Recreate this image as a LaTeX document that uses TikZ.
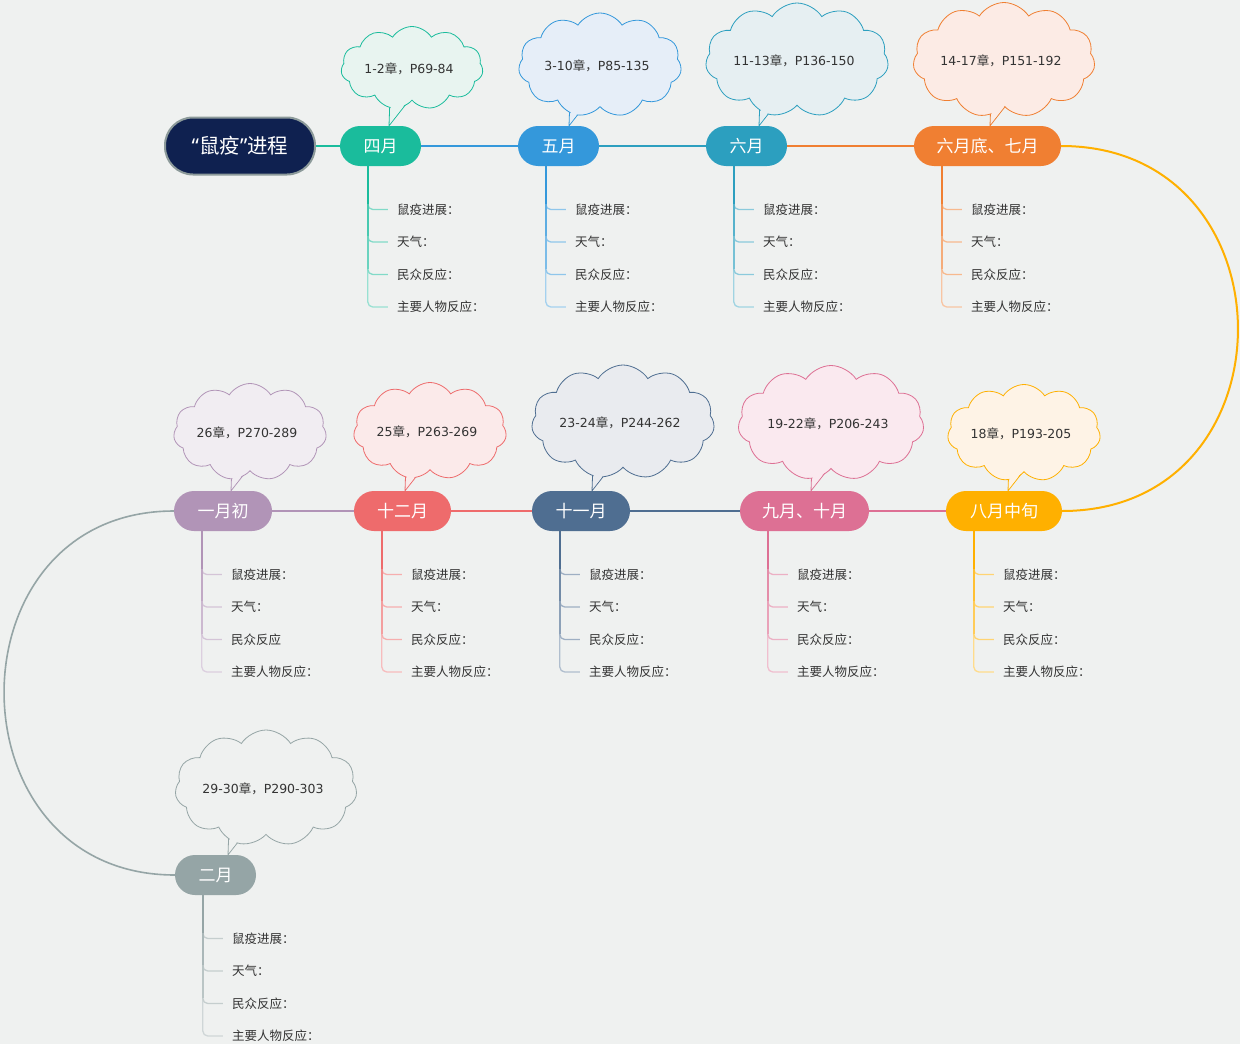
\documentclass[tikz,border=0pt]{standalone}
\usepackage{fontspec}
\setmainfont{Noto Sans CJK SC}
\newfontfamily\latfont{DejaVu Sans}
\newfontfamily\quotefont{Noto Sans}
\usetikzlibrary{shapes.symbols,calc}
\definecolor{bg}{HTML}{EFF1F0}
\definecolor{txt}{HTML}{333333}
\definecolor{rootfill}{HTML}{0F2150}
\definecolor{rootline}{HTML}{8C9A9A}
\definecolor{cA}{HTML}{1ABC9C}
\definecolor{cB}{HTML}{3498DB}
\definecolor{cC}{HTML}{2C9FBF}
\definecolor{cD}{HTML}{F07F32}
\definecolor{cE}{HTML}{FFB000}
\definecolor{cF}{HTML}{DD7094}
\definecolor{cG}{HTML}{4F6E91}
\definecolor{cH}{HTML}{EE6B6C}
\definecolor{cI}{HTML}{B194B7}
\definecolor{cJ}{HTML}{95A5A6}
\definecolor{fA}{HTML}{E8F4F0}
\definecolor{fB}{HTML}{E6EEF8}
\definecolor{fC}{HTML}{E6EFF2}
\definecolor{fD}{HTML}{FCEBE5}
\definecolor{fE}{HTML}{FEF3E6}
\definecolor{fF}{HTML}{FAE9EF}
\definecolor{fG}{HTML}{E9EBEF}
\definecolor{fH}{HTML}{FBEAEA}
\definecolor{fI}{HTML}{F1EDF2}
\definecolor{fJ}{HTML}{EFF1F0}
\newcommand\lt[1]{{\latfont #1}}
\tikzset{
  month/.style={rectangle, rounded corners=20pt, minimum height=40pt, inner sep=0pt, text=white, font=\fontsize{17}{19}\selectfont},
  cloudbox/.style={cloud, cloud puffs=11, cloud puff arc=115, cloud ignores aspect, line width=0.8pt, inner sep=0pt},
  cloudtext/.style={inner sep=0pt, text=txt, font=\fontsize{12.5}{14}\selectfont},
  itemtext/.style={anchor=west, inner sep=0pt, text=txt, font=\fontsize{12.5}{14}\selectfont},
  itemline/.style={line width=1.3pt, rounded corners=5pt, shorten >=9pt},
  link/.style={line width=2pt},
}
\newcommand\bubble[9]{%
  \coordinate (#1-t) at #9;
  \coordinate (#1-a) at ($(#1-t)+(1,-28)$);
  \coordinate (#1-b) at ($(#1-t)+(22,-28)$);
  \draw[#2, line width=0.8pt] (#1-a) -- (#1-t) -- (#1-b);
  \node[cloudbox, draw=#2, fill=#3, minimum width=#6, minimum height=#7] (#1) at (#4,#5) {};
  \coordinate (#1-g) at ($0.3333*(#1-a)+0.3333*(#1-b)+0.3334*(#1-t)$);
  \fill[#3] ($(#1-g)!0.85!(#1-a)$) -- ($(#1-g)!0.85!(#1-t)$) -- ($(#1-g)!0.85!(#1-b)$) -- cycle;
  \node[cloudtext] (#1-l) at ($(#1.center)+(-3,1)$) {#8};
}
\newcommand\items[3]{%
  \coordinate (#1-v) at ($(#1.west)+(28,0)$);
  \node[itemtext] (#1-i1) at ($(#1-v)+(29,63.5)$) {鼠疫进展：};
  \node[itemtext] (#1-i2) at ($(#1-v)+(29,96)$) {天气：};
  \node[itemtext] (#1-i3) at ($(#1-v)+(29,128.5)$) {#3};
  \node[itemtext] (#1-i4) at ($(#1-v)+(29,161)$) {主要人物反应：};
  \draw[itemline, #2!45] (#1-v |- #1.south) |- (#1-i4.west);
  \draw[itemline, #2!55] (#1-v |- #1.south) |- (#1-i3.west);
  \draw[itemline, #2!55] (#1-v |- #1.south) |- (#1-i2.west);
  \draw[itemline, #2!55] (#1-v |- #1.south) |- (#1-i1.west);
  \draw[#2!65, line width=1.6pt] (#1-v |- #1.south) -- ($(#1-v |- #1-i3.west)+(0,-6)$);
  \draw[#2!80, line width=1.6pt] (#1-v |- #1.south) -- ($(#1-v |- #1-i2.west)+(0,-6)$);
  \draw[#2, line width=1.6pt] (#1-v |- #1.south) -- ($(#1-v |- #1-i1.west)+(0,-6)$);
}
\begin{document}
\begin{tikzpicture}[x=1pt, y=-1pt]
\useasboundingbox (0,0) rectangle (1240,1044);
\fill[bg] (0,0) rectangle (1240,1044);

% main topics
\node[rectangle, rounded corners=28pt, minimum width=150pt, minimum height=57pt, inner sep=0pt,
      fill=rootfill, draw=rootline, line width=2pt, text=white, font=\fontsize{20.5}{23}\selectfont]
      (root) at (240,146) {{\quotefont “}鼠疫{\quotefont ”}进程};
\node[month, fill=cA, minimum width=81pt] (m1) at (380.5,146) {四月};
\node[month, fill=cB, minimum width=81pt] (m2) at (558.5,146) {五月};
\node[month, fill=cC, minimum width=81pt] (m3) at (746.5,146) {六月};
\node[month, fill=cD, minimum width=147pt] (m4) at (987.5,146) {六月底、七月};
\node[month, fill=cI, minimum width=98pt] (n1) at (223,511) {一月初};
\node[month, fill=cH, minimum width=97pt] (n2) at (402.5,511) {十二月};
\node[month, fill=cG, minimum width=98pt] (n3) at (581,511) {十一月};
\node[month, fill=cF, minimum width=129pt] (n4) at (804.5,511) {九月、十月};
\node[month, fill=cE, minimum width=116pt] (n5) at (1004,511) {八月中旬};
\node[month, fill=cJ, minimum width=81pt] (f1) at (215.5,875) {二月};

% connectors between topics
\draw[link, cA] (root.east) -- (m1.west);
\draw[link, cB] (m1.east) -- (m2.west);
\draw[link, cC] (m2.east) -- (m3.west);
\draw[link, cD] (m3.east) -- (m4.west);
\draw[link, cE] (m4.east) .. controls +(235,0) and +(235,0) .. (n5.east);
\draw[link, cF] (n5.west) -- (n4.east);
\draw[link, cG] (n4.west) -- (n3.east);
\draw[link, cH] (n3.west) -- (n2.east);
\draw[link, cI] (n2.west) -- (n1.east);
\draw[line width=1.6pt, cJ] (n1.west) .. controls +(-227,0) and +(-227,0) .. (f1.west);

% sub items
\items{m1}{cA}{民众反应：}
\items{m2}{cB}{民众反应：}
\items{m3}{cC}{民众反应：}
\items{m4}{cD}{民众反应：}
\items{n1}{cI}{民众反应}
\items{n2}{cH}{民众反应：}
\items{n3}{cG}{民众反应：}
\items{n4}{cF}{民众反应：}
\items{n5}{cE}{民众反应：}
\items{f1}{cJ}{民众反应：}

% callout clouds
\bubble{c1}{cA}{fA}{412}{68}{142}{83}{\lt{1-2}章，\lt{P69-84}}{(389,0 |- m1.north)}
\bubble{c2}{cB}{fB}{600}{65}{163}{104}{\lt{3-10}章，\lt{P85-135}}{(569,0 |- m2.north)}
\bubble{c3}{cC}{fC}{797}{60}{183}{114}{\lt{11-13}章，\lt{P136-150}}{(759,0 |- m3.north)}
\bubble{c4}{cD}{fD}{1004}{60}{182}{115}{\lt{14-17}章，\lt{P151-192}}{(990,0 |- m4.north)}
\bubble{c5}{cE}{fE}{1024}{433}{153}{97}{\lt{18}章，\lt{P193-205}}{(1008,0 |- n5.north)}
\bubble{c6}{cF}{fF}{831}{423}{186}{115}{\lt{19-22}章，\lt{P206-243}}{(811,0 |- n4.north)}
\bubble{c7}{cG}{fG}{623}{422}{183}{114}{\lt{23-24}章，\lt{P244-262}}{(592,0 |- n3.north)}
\bubble{c8}{cH}{fH}{430}{431}{153}{97}{\lt{25}章，\lt{P263-269}}{(405,0 |- n2.north)}
\bubble{c9}{cI}{fI}{250}{432}{153}{97}{\lt{26}章，\lt{P270-289}}{(231,0 |- n1.north)}
\bubble{c10}{cJ}{fJ}{266}{788}{182}{116}{\lt{29-30}章，\lt{P290-303}}{(228,0 |- f1.north)}
\end{tikzpicture}
\end{document}
